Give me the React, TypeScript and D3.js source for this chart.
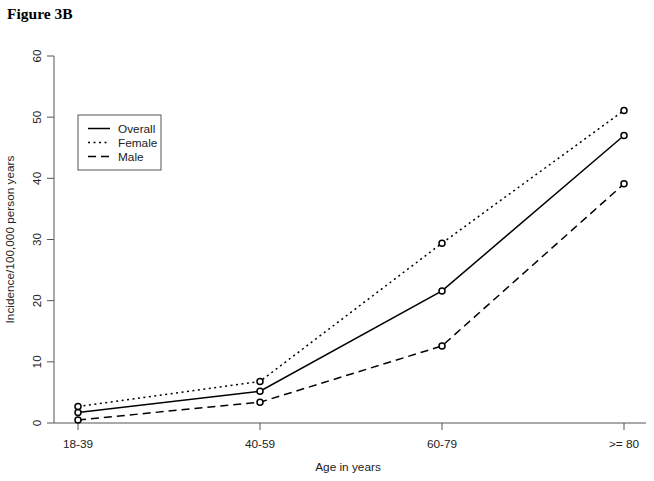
import React from "react";
import * as d3 from "d3";

const categories = ["18-39", "40-59", "60-79", ">= 80"];
const overall = [1.7, 5.2, 21.6, 47.0];
const female = [2.7, 6.8, 29.4, 51.1];
const male = [0.5, 3.4, 12.6, 39.1];
const yTicks = [0, 10, 20, 30, 40, 50, 60];
const legendLabels = ["Overall", "Female", "Male"];

const W = 654;
const H = 481;

export default function App() {
  const x = d3.scaleLinear().domain([1, 4]).range([78, 624]);
  const y = d3.scaleLinear().domain([0, 60]).range([423, 56]);
  const xAxisStart = 54;
  const xAxisEnd = 646;

  const series = [
    { name: legendLabels[0], values: overall, dash: undefined as string | undefined },
    { name: legendLabels[1], values: female, dash: "2,3.5" },
    { name: legendLabels[2], values: male, dash: "8,5" },
  ];

  const line = d3
    .line<number>()
    .x((_, i) => x(i + 1))
    .y((d) => y(d));

  const font = "'Liberation Sans', Arial, sans-serif";
  const axisColor = "#555";
  const textColor = "#222";
  const fs = 11.8;

  return (
    <svg
      width={W}
      height={H}
      style={{ position: "absolute", left: 0, top: 0, background: "#fff" }}
    >
      <text
        x={7}
        y={19}
        fontFamily="'Liberation Serif', 'Times New Roman', serif"
        fontWeight="bold"
        fontSize={15.5}
        fill="#000"
      >
        Figure 3B
      </text>

      {/* y axis */}
      <line x1={xAxisStart} x2={xAxisStart} y1={y(0)} y2={y(60)} stroke={axisColor} strokeWidth={1} />
      {yTicks.map((t) => (
        <g key={t}>
          <line x1={xAxisStart - 7} x2={xAxisStart} y1={y(t)} y2={y(t)} stroke={axisColor} strokeWidth={1} />
          <text
            transform={`translate(${41},${y(t)}) rotate(-90)`}
            textAnchor="middle"
            fontFamily={font}
            fontSize={fs}
            fill={textColor}
          >
            {t}
          </text>
        </g>
      ))}
      <text
        transform={`translate(${14},${y(30)}) rotate(-90)`}
        textAnchor="middle"
        fontFamily={font}
        fontSize={fs}
        fill={textColor}
      >
        Incidence/100,000 person years
      </text>

      {/* x axis */}
      <line x1={xAxisStart} x2={xAxisEnd} y1={y(0)} y2={y(0)} stroke={axisColor} strokeWidth={1} />
      {categories.map((c, i) => (
        <g key={c}>
          <line x1={x(i + 1)} x2={x(i + 1)} y1={y(0)} y2={y(0) + 7} stroke={axisColor} strokeWidth={1} />
          <text
            x={x(i + 1)}
            y={448}
            textAnchor="middle"
            fontFamily={font}
            fontSize={fs}
            fill={textColor}
          >
            {c}
          </text>
        </g>
      ))}
      <text x={(xAxisStart + xAxisEnd) / 2 - 2} y={471} textAnchor="middle" fontFamily={font} fontSize={fs} fill={textColor}>
        Age in years
      </text>

      {/* series */}
      {series.map((s) => (
        <g key={s.name}>
          <path d={line(s.values) || ""} fill="none" stroke="#000" strokeWidth={1.5} strokeDasharray={s.dash} />
          {s.values.map((v, i) => (
            <circle key={i} cx={x(i + 1)} cy={y(v)} r={3} fill="#fff" stroke="#000" strokeWidth={1.5} />
          ))}
        </g>
      ))}

      {/* legend */}
      <rect x={78} y={115} width={83} height={55} fill="#fff" stroke={axisColor} strokeWidth={1} />
      {series.map((s, i) => (
        <g key={s.name}>
          <line x1={88} x2={110} y1={128.5 + i * 14} y2={128.5 + i * 14} stroke="#000" strokeWidth={1.5} strokeDasharray={s.dash} />
          <text x={118} y={132.5 + i * 14} fontFamily={font} fontSize={fs} fill={textColor}>
            {s.name}
          </text>
        </g>
      ))}
    </svg>
  );
}
